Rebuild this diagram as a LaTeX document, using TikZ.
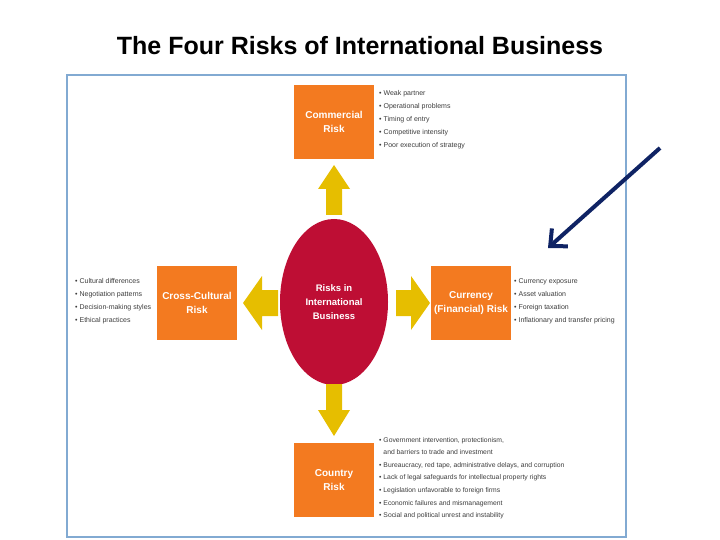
\documentclass[tikz,border=0pt]{standalone}
\usepackage{fontspec}
\setmainfont{Liberation Sans}
\usetikzlibrary{arrows.meta,shapes.geometric}
\definecolor{og}{RGB}{243,122,32}
\definecolor{yl}{RGB}{230,190,0}
\definecolor{rd}{RGB}{190,14,52}
\definecolor{fr}{RGB}{130,170,210}
\definecolor{nv}{RGB}{15,35,100}
\definecolor{tx}{RGB}{60,60,60}
\tikzset{
 riskbox/.style={fill=og,minimum width=80pt,minimum height=74pt,inner sep=0pt,text=white,font=\fontsize{10}{14}\selectfont\bfseries,align=center},
 blist/.style={font=\fontsize{7}{13}\selectfont,text=tx,align=left,inner sep=0pt},
 yarrow/.style={fill=yl,draw=none}
}
\begin{document}
\begin{tikzpicture}[x=1pt,y=-1pt]
\useasboundingbox (0,0) rectangle (720,540);
\node (title) at (360,46) {\fontsize{25}{28}\selectfont\bfseries The Four Risks of International Business};
\draw[fr,line width=2.5pt] (67,75) rectangle (626,537);
\node[riskbox] (com) at (334,122) {Commercial\\Risk};
\node[riskbox] (cc) at (197,303) {Cross-Cultural\\Risk};
\node[riskbox] (cur) at (471,303) {Currency\\(Financial) Risk};
\node[riskbox] (cty) at (334,480) {Country\\Risk};
\node[fill=rd,ellipse,minimum width=108pt,minimum height=166pt,inner sep=0pt,text=white,font=\fontsize{9.5}{14}\selectfont\bfseries,align=center] (ctr) at (334,302) {Risks in\\International\\Business};
% yellow arrows
\fill[yarrow] (334,165) -- (350,189) -- (342,189) -- (342,215) -- (326,215) -- (326,189) -- (318,189) -- cycle;
\fill[yarrow] (334,436) -- (350,410) -- (342,410) -- (342,384) -- (326,384) -- (326,410) -- (318,410) -- cycle;
\fill[yarrow] (243,303) -- (262,276) -- (262,290) -- (278,290) -- (278,316) -- (262,316) -- (262,330) -- cycle;
\fill[yarrow] (430,303) -- (411,276) -- (411,290) -- (396,290) -- (396,316) -- (411,316) -- (411,330) -- cycle;
\node[blist,anchor=north west] (lcom) at (379,90) {• Weak partner\\• Operational problems\\• Timing of entry\\• Competitive intensity\\• Poor execution of strategy};
\node[blist,anchor=north west] (lcc) at (75,278) {• Cultural differences\\• Negotiation patterns\\• Decision-making styles\\• Ethical practices};
\node[blist,anchor=north west] (lcur) at (514,278) {• Currency exposure\\• Asset valuation\\• Foreign taxation\\• Inflationary and transfer pricing};
\node[blist,anchor=north west,font=\fontsize{6.8}{12.6}\selectfont] (lcty) at (379,437) {• Government intervention, protectionism,\\\phantom{• }and barriers to trade and investment\\• Bureaucracy, red tape, administrative delays, and corruption\\• Lack of legal safeguards for intellectual property rights\\• Legislation unfavorable to foreign firms\\• Economic failures and mismanagement\\• Social and political unrest and instability};
\coordinate (bs) at (660,148);
\coordinate (be) at (548,248);
\draw[nv,line width=4pt,-{Straight Barb[length=13pt,width=24pt]}] (bs) -- (be);
\end{tikzpicture}
\end{document}
